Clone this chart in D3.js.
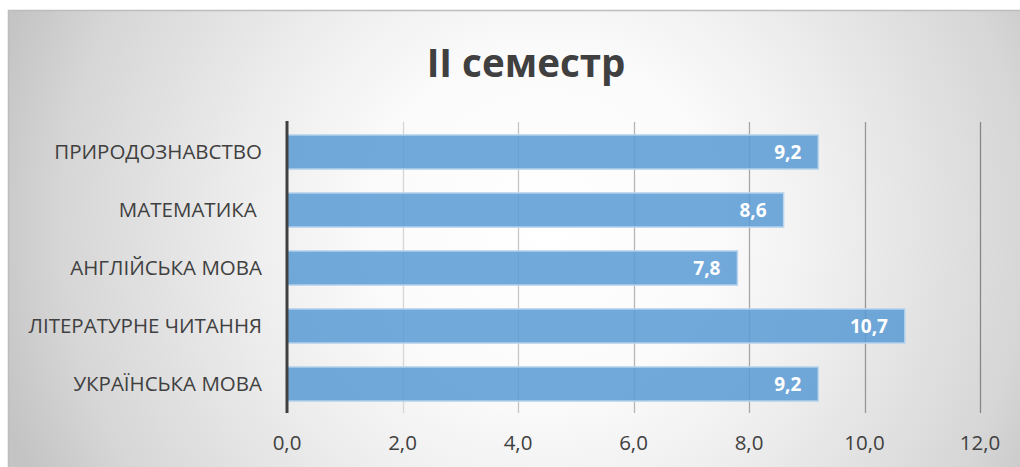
<!DOCTYPE html>
<html>
<head>
<meta charset="utf-8">
<script src="https://cdn.jsdelivr.net/npm/d3@7"></script>
<style>
  html, body { margin: 0; padding: 0; background: #ffffff; }
  svg { display: block; }
  text { font-family: "Open Sans", "Noto Sans", "DejaVu Sans", sans-serif; }
</style>
</head>
<body>
<svg id="chart" width="1020" height="467"></svg>
<script>
const title = "ІІ семестр";
const categories = ["ПРИРОДОЗНАВСТВО", "МАТЕМАТИКА ", "АНГЛІЙСЬКА МОВА", "ЛІТЕРАТУРНЕ ЧИТАННЯ", "УКРАЇНСЬКА МОВА"];
const values = [9.2, 8.6, 7.8, 10.7, 9.2];
const tickValues = [0, 2, 4, 6, 8, 10, 12];
const tickLabels = ["0,0", "2,0", "4,0", "6,0", "8,0", "10,0", "12,0"];
const valueLabels = ["9,2", "8,6", "7,8", "10,7", "9,2"];

const svg = d3.select("#chart");

// background radial gradient
const defs = svg.append("defs");
const grad = defs.append("radialGradient")
  .attr("id", "bg")
  .attr("gradientUnits", "userSpaceOnUse")
  .attr("cx", 545).attr("cy", 225).attr("r", 570);
[[0, "#ffffff"], [0.3, "#fbfbfb"], [0.5, "#efefef"], [0.85, "#d6d6d6"], [0.94, "#cbcbcb"], [1, "#c4c4c4"]]
  .forEach(([o, c]) => grad.append("stop").attr("offset", o).attr("stop-color", c));

svg.append("rect")
  .attr("x", 8.5).attr("y", 10.5)
  .attr("width", 1040).attr("height", 480)
  .attr("fill", "url(#bg)")
  .attr("stroke", "#bdbdbd")
  .attr("stroke-width", 1.5);

const x = d3.scaleLinear().domain([0, 12]).range([287, 980]);
const y = d3.scaleBand().domain(categories).range([123, 413]).paddingInner(0.41).paddingOuter(0.205);

// gridlines
const gridColor = d3.scaleLinear().domain([2, 12]).range(["#d6d6d6", "#878787"]);
svg.append("g").selectAll("line")
  .data(tickValues.filter(v => v > 0))
  .join("line")
  .attr("x1", d => Math.round(x(d)) + 0.5).attr("x2", d => Math.round(x(d)) + 0.5)
  .attr("y1", 122).attr("y2", 413)
  .attr("stroke", d => gridColor(d))
  .attr("stroke-width", 1.3);

// bars
svg.append("g").selectAll("rect")
  .data(categories)
  .join("rect")
  .attr("x", x(0))
  .attr("y", d => y(d))
  .attr("width", (d, i) => x(values[i]) - x(0))
  .attr("height", y.bandwidth())
  .attr("fill", "#5b9bd5")
  .attr("fill-opacity", 0.86)
  .attr("stroke", "#bcd6ee")
  .attr("stroke-width", 1.5);

// value labels
svg.append("g").selectAll("text")
  .data(categories)
  .join("text")
  .attr("x", (d, i) => x(values[i]) - 17)
  .attr("y", d => y(d) + y.bandwidth() / 2)
  .attr("dy", "0.36em")
  .attr("text-anchor", "end")
  .attr("fill", "#ffffff")
  .attr("font-weight", "bold")
  .attr("font-size", 19)
  .text((d, i) => valueLabels[i]);

// y axis line
svg.append("line")
  .attr("x1", x(0)).attr("x2", x(0))
  .attr("y1", 121).attr("y2", 413)
  .attr("stroke", "#404040")
  .attr("stroke-width", 3);

// category labels
svg.append("g").selectAll("text")
  .data(categories)
  .join("text")
  .attr("x", 262)
  .attr("y", d => y(d) + y.bandwidth() / 2)
  .attr("dy", "0.36em")
  .attr("text-anchor", "end")
  .attr("fill", "#404040")
  .attr("font-size", 20.5)
  .style("white-space", "pre")
  .text(d => d);

// x tick labels
svg.append("g").selectAll("text")
  .data(tickValues)
  .join("text")
  .attr("x", d => x(d))
  .attr("y", 443)
  .attr("dy", "0.36em")
  .attr("text-anchor", "middle")
  .attr("fill", "#404040")
  .attr("font-size", 20.5)
  .text((d, i) => tickLabels[i]);

// title
svg.append("text")
  .attr("x", 526)
  .attr("y", 77)
  .attr("text-anchor", "middle")
  .attr("fill", "#404040")
  .attr("font-weight", "bold")
  .attr("font-size", 38.5)
  .text(title);
</script>
</body>
</html>
